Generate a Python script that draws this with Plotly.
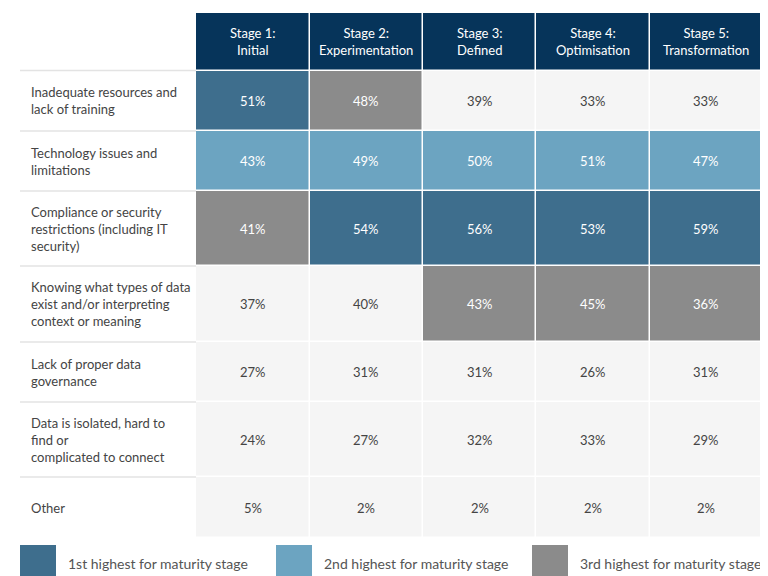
import plotly.graph_objects as go

stages = ["Stage 1:<br>Initial", "Stage 2:<br>Experimentation", "Stage 3:<br>Defined",
          "Stage 4:<br>Optimisation", "Stage 5:<br>Transformation"]
barriers = ["Inadequate resources and<br>lack of training",
            "Technology issues and<br>limitations",
            "Compliance or security<br>restrictions (including IT<br>security)",
            "Knowing what types of data<br>exist and/or interpreting<br>context or meaning",
            "Lack of proper data<br>governance",
            "Data is isolated, hard to<br>find or<br>complicated to connect",
            "Other"]
values = [[51, 48, 39, 33, 33],
          [43, 49, 50, 51, 47],
          [41, 54, 56, 53, 59],
          [37, 40, 43, 45, 36],
          [27, 31, 31, 26, 31],
          [24, 27, 32, 33, 29],
          [5, 2, 2, 2, 2]]
# 1 = 1st highest, 2 = 2nd highest, 3 = 3rd highest, 0 = none
rank = [[1, 3, 0, 0, 0],
        [2, 2, 2, 2, 2],
        [3, 1, 1, 1, 1],
        [0, 0, 3, 3, 3],
        [0, 0, 0, 0, 0],
        [0, 0, 0, 0, 0],
        [0, 0, 0, 0, 0]]
legend_labels = ["1st highest for maturity stage", "2nd highest for maturity stage",
                 "3rd highest for maturity stage"]

# pixel-based geometry
col_edges = [188, 301.5, 415, 528, 641.5, 755]
row_edges = [5, 62.5, 123, 183, 258, 334, 394, 469, 530]
colors = ["#f5f5f5", "#3e6e8d", "#6ca4c1", "#8b8b8b", "#06345a"]
font = "Lato, 'Open Sans', sans-serif"

z = [[4] * 5] + rank
cscale = []
for i, c in enumerate(colors):
    cscale += [[i / 5, c], [(i + 1) / 5, c]]

fig = go.Figure()
fig.add_trace(go.Heatmap(x=col_edges, y=row_edges, z=z, zmin=-0.5, zmax=4.5,
                         colorscale=cscale, showscale=False, xgap=1.5, ygap=1.5,
                         hoverinfo="skip"))

xc = [(col_edges[i] + col_edges[i + 1]) / 2 for i in range(5)]
yc = [(row_edges[i] + row_edges[i + 1]) / 2 for i in range(len(row_edges) - 1)]

for j, s in enumerate(stages):
    fig.add_annotation(x=xc[j], y=yc[0], text=s, showarrow=False,
                       font=dict(color="white", size=13, family=font))
for i, b in enumerate(barriers):
    y = yc[i + 1]
    fig.add_annotation(x=21, y=y, text=b, xanchor="left", align="left", showarrow=False,
                       font=dict(color="#444", size=13, family=font))
    fig.add_shape(type="line", x0=12, x1=188, y0=row_edges[i + 2], y1=row_edges[i + 2],
                  line=dict(color="#e3e3e3", width=1.5)) if i < len(barriers) - 1 else None
    for j, v in enumerate(values[i]):
        fig.add_annotation(x=xc[j], y=y, text=f"{v}%", showarrow=False,
                           font=dict(color="white" if rank[i][j] else "#444", size=13, family=font))
fig.add_shape(type="line", x0=12, x1=188, y0=row_edges[1], y1=row_edges[1],
              line=dict(color="#e3e3e3", width=1.5))

leg_x = [30, 286, 542]
fig.add_trace(go.Scatter(x=leg_x, y=[555] * 3, mode="markers", hoverinfo="skip",
                         marker=dict(symbol="square", size=36, color=colors[1:4])))
for lx, lab in zip(leg_x, legend_labels):
    fig.add_annotation(x=lx + 28, y=555, text=lab, xanchor="left", showarrow=False,
                       font=dict(color="#555", size=14, family=font))

fig.update_layout(width=768, height=576, margin=dict(l=0, r=0, t=0, b=0),
                  plot_bgcolor="white", paper_bgcolor="white", showlegend=False,
                  xaxis=dict(range=[0, 768], visible=False, fixedrange=True),
                  yaxis=dict(range=[576, 0], visible=False, fixedrange=True))
fig.write_html("out.html")
